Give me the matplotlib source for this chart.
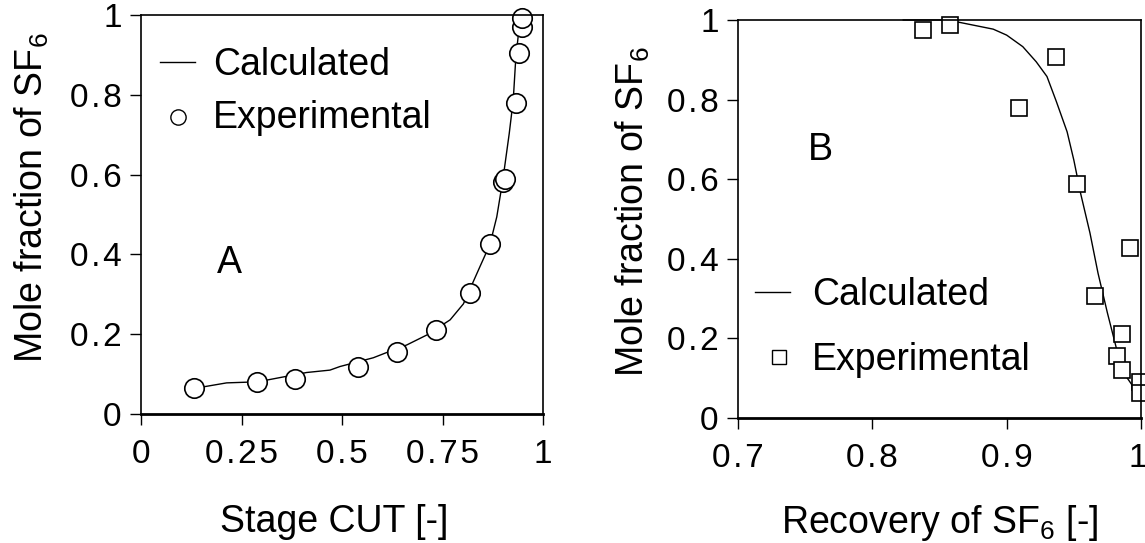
import matplotlib
matplotlib.use("Agg")
import matplotlib.pyplot as plt
import matplotlib.transforms as mtransforms
from matplotlib.lines import Line2D

plt.rcParams['font.family'] = ['Liberation Sans', 'DejaVu Sans']
plt.rcParams['mathtext.default'] = 'regular'

# ---- Panel A data ----
a_exp_x = [0.132, 0.288, 0.382, 0.540, 0.638, 0.734, 0.819, 0.868, 0.901, 0.906,
           0.933, 0.940, 0.949, 0.948]
a_exp_y = [0.064, 0.079, 0.088, 0.119, 0.156, 0.211, 0.304, 0.425, 0.582, 0.588,
           0.779, 0.906, 0.971, 0.992]
a_calc_x = [0.132, 0.155, 0.213, 0.271, 0.313, 0.412, 0.470, 0.495, 0.578, 0.611,
            0.661, 0.711, 0.769, 0.802, 0.843, 0.868, 0.885, 0.900, 0.916, 0.926,
            0.932, 0.939, 0.943]
a_calc_y = [0.064, 0.068, 0.078, 0.080, 0.085, 0.104, 0.110, 0.119, 0.141, 0.154,
            0.173, 0.198, 0.236, 0.276, 0.369, 0.425, 0.494, 0.586, 0.703, 0.787,
            0.887, 0.954, 0.987]

# ---- Panel B data ----
b_exp_x = [0.838, 0.858, 0.909, 0.937, 0.952, 0.992, 0.966, 0.986, 0.982, 0.986,
           0.999, 0.999]
b_exp_y = [0.975, 0.987, 0.780, 0.906, 0.588, 0.426, 0.307, 0.210, 0.156, 0.121,
           0.091, 0.062]
b_calc_x = [0.823, 0.853, 0.865, 0.890, 0.900, 0.912, 0.922, 0.930, 0.937, 0.945,
            0.950, 0.955, 0.962, 0.968, 0.975, 0.982, 0.989, 0.996]
b_calc_y = [1.000, 1.000, 0.994, 0.977, 0.962, 0.933, 0.895, 0.858, 0.795, 0.719,
            0.648, 0.565, 0.465, 0.364, 0.264, 0.171, 0.104, 0.070]

# ---- ticks ----
a_xticks = [0, 0.25, 0.5, 0.75, 1]
a_xtick_labels = ["0", "0.25", "0.5", "0.75", "1"]
b_xticks = [0.7, 0.8, 0.9, 1.0]
b_xtick_labels = ["0.7", "0.8", "0.9", "1"]
yticks = [0, 0.2, 0.4, 0.6, 0.8, 1.0]
ytick_labels = ["0", "0.2", "0.4", "0.6", "0.8", "1"]

xlabel_a = "Stage CUT [-]"
xlabel_b = "Recovery of SF$_6$ [-]"
ylabel = "Mole fraction of SF$_6$"
leg_calc = "Calculated"
leg_exp = "Experimental"


def spaced(s):
    return "\u200a".join(s)


W, H = 1145, 543
fig = plt.figure(figsize=(W / 100, H / 100), dpi=100)
axA = fig.add_axes([141 / W, 1 - 414 / H, 402 / W, 399 / H])
axB = fig.add_axes([738 / W, 1 - 418 / H, 403 / W, 398 / H])

TXT = 27
TICK = 24

for ax in (axA, axB):
    for s in ax.spines.values():
        s.set_linewidth(1.2)
    ax.spines['bottom'].set_linewidth(2.0)
    ax.tick_params(direction='out', length=8, width=1.0, labelsize=TICK)
    ax.tick_params(axis='y', pad=6)
    ax.tick_params(axis='x', pad=10)
    ax.set_ylim(0, 1)
    ax.set_yticks(yticks)
    ax.set_yticklabels([spaced(t) for t in ytick_labels], fontsize=TICK)

# Panel A
axA.set_xlim(0, 1)
axA.set_xticks(a_xticks)
axA.set_xticklabels([spaced(t) for t in a_xtick_labels], fontsize=TICK)
axA.plot(a_calc_x, a_calc_y, color='black', lw=1.0, clip_on=False)
axA.plot(a_exp_x, a_exp_y, linestyle='none', marker='o', ms=14, mfc='white',
         mec='black', mew=1.2, clip_on=False)
axA.text(0.221, 0.378, "A", fontsize=TXT, ha='center', va='center')
axA.set_xlabel(xlabel_a, fontsize=TXT)
axA.xaxis.set_label_coords(0.48, -0.271)
axA.xaxis.label.set_va('center')
axA.set_ylabel(ylabel, fontsize=TXT)
axA.yaxis.set_label_coords(-0.271, 0.541)
axA.yaxis.label.set_va('center')

# legend A
axA.add_line(Line2D([0.047, 0.134], [0.882, 0.882], transform=axA.transAxes,
                    color='black', lw=1.0))
axA.text(0.179, 0.875, leg_calc, transform=axA.transAxes, fontsize=TXT,
         ha='left', va='center')
axA.add_line(Line2D([0.092], [0.744], transform=axA.transAxes, marker='o', ms=11,
                    mfc='white', mec='black', mew=1.0, linestyle='none'))
axA.text(0.179, 0.742, leg_exp, transform=axA.transAxes, fontsize=TXT,
         ha='left', va='center')

# Panel B
axB.set_xlim(0.7, 1.0)
axB.set_xticks(b_xticks)
axB.set_xticklabels([spaced(t) for t in b_xtick_labels], fontsize=TICK)
# keep the last tick label ("1") inside the figure edge
last = axB.get_xticklabels()[-1]
last.set_ha('right')
last.set_transform(last.get_transform() +
                   mtransforms.ScaledTranslation(6 / 100, 0, fig.dpi_scale_trans))
axB.plot(b_calc_x, b_calc_y, color='black', lw=1.0, clip_on=False)
axB.plot(b_exp_x, b_exp_y, linestyle='none', marker='s', ms=11, mfc='white',
         mec='black', mew=1.2, clip_on=False)
axB.text(0.761, 0.673, "B", fontsize=TXT, ha='center', va='center')
axB.set_xlabel(xlabel_b, fontsize=TXT)
axB.xaxis.set_label_coords(0.50, -0.264)
axB.xaxis.label.set_va('center')
axB.set_ylabel(ylabel, fontsize=TXT)
axB.yaxis.set_label_coords(-0.261, 0.518)
axB.yaxis.label.set_va('center')

# legend B
axB.add_line(Line2D([0.042, 0.129], [0.317, 0.317], transform=axB.transAxes,
                    color='black', lw=1.0))
axB.text(0.184, 0.309, leg_calc, transform=axB.transAxes, fontsize=TXT,
         ha='left', va='center')
axB.add_line(Line2D([0.102], [0.153], transform=axB.transAxes, marker='s', ms=10.5,
                    mfc='white', mec='black', mew=1.0, linestyle='none'))
axB.text(0.184, 0.146, leg_exp, transform=axB.transAxes, fontsize=TXT,
         ha='left', va='center')

fig.savefig("out.png", dpi=100, facecolor='white')
